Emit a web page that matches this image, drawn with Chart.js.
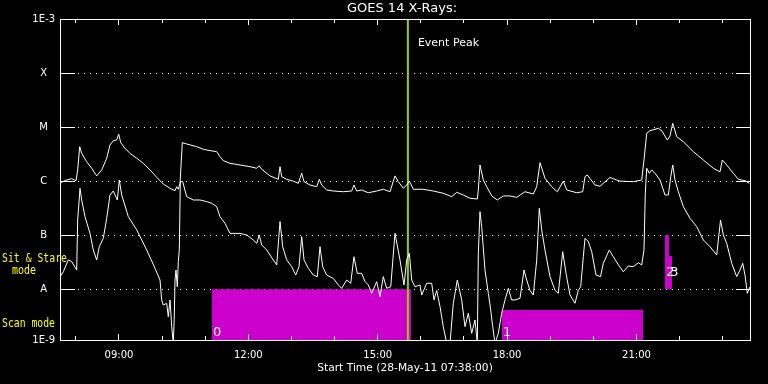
<!DOCTYPE html>
<html>
<head>
<meta charset="utf-8">
<script src="https://cdn.jsdelivr.net/npm/chart.js@4/dist/chart.umd.min.js"></script>
<style>
html,body{margin:0;padding:0;background:#000;}
#wrap{width:768px;height:384px;position:relative;}
</style>
</head>
<body>
<div id="wrap"><canvas id="c"></canvas></div>
<script>
// ---- axis ranges & tick labels ----
const startHour = 7.633;          // 07:38
const endHour = 23.633;
const yMin = 1.15e-9, yMax = 1e-3;
const yTickValues = [1.15e-9, 1e-8, 1e-7, 1e-6, 1e-5, 1e-4, 1e-3];
const yTickLabels = ['1E-9', 'A', 'B', 'C', 'M', 'X', '1E-3'];
const xMinorHours = [8,9,10,11,12,13,14,15,16,17,18,19,20,21,22,23];
const xMajorHours = [9,12,15,18,21];
const xMajorLabels = ['09:00','12:00','15:00','18:00','21:00'];
const chartTitle = 'GOES 14 X-Rays:';
const xTitle = 'Start Time (28-May-11 07:38:00)';

// ---- 1-8 A channel (upper curve) ----
const longTime = [7.649,7.788,7.904,8.004,8.043,8.090,8.136,8.252,8.368,8.484,
8.600,8.716,8.792,8.869,8.948,8.994,9.041,9.140,9.256,9.412,
9.565,9.720,9.875,10.028,10.184,10.300,10.339,10.376,10.416,10.469,
10.571,10.803,10.956,11.111,11.267,11.343,11.420,11.575,11.807,12.039,
12.194,12.248,12.310,12.503,12.695,12.735,12.774,12.890,13.043,13.159,
13.238,13.291,13.430,13.586,13.646,13.701,13.817,13.970,14.202,14.397,
14.450,14.513,14.629,14.782,14.977,15.130,15.285,15.401,15.478,15.594,
15.673,15.733,15.826,16.057,16.289,16.521,16.716,16.832,16.985,17.140,
17.310,17.333,17.372,17.449,17.528,17.644,17.773,17.913,18.068,18.223,
18.416,18.608,18.687,18.764,18.879,19.035,19.165,19.304,19.383,19.615,
19.753,19.807,19.860,20.039,20.155,20.387,20.542,20.619,20.927,21.122,
21.175,21.238,21.314,21.507,21.586,21.716,21.778,21.841,21.934,22.087,
22.319,22.551,22.783,22.938,22.991,23.093,23.246,23.362,23.518,23.617];
const longFlux = [9.4e-7,1.05e-6,1.11e-6,1.02e-6,1.61e-6,4.34e-6,3.27e-6,2.29e-6,1.73e-6,1.25e-6,
1.61e-6,2.65e-6,4.66e-6,5.6e-6,5.77e-6,7.45e-6,5.15e-6,4.05e-6,3.27e-6,2.65e-6,
2.14e-6,1.61e-6,1.18e-6,8.85e-7,7.37e-7,6.66e-7,7.9e-7,7.07e-7,9.1e-7,5.15e-6,
4.87e-6,4.34e-6,3.88e-6,3.67e-6,3.51e-6,2.83e-6,2.39e-6,2.14e-6,1.99e-6,1.85e-6,
1.73e-6,1.93e-6,1.66e-6,1.25e-6,1.08e-6,1.85e-6,1.21e-6,1.08e-6,1.0e-6,9.1e-7,
1.40e-6,9.77e-7,8.48e-7,7.9e-7,1.08e-6,8.48e-7,6.86e-7,6.57e-7,6.37e-7,6.57e-7,
8.48e-7,6.57e-7,6.86e-7,6.1e-7,6.57e-7,7.07e-7,6.37e-7,1.25e-6,9.77e-7,7.37e-7,
8.48e-7,1.0e-6,7.07e-7,7.07e-7,6.57e-7,5.96e-7,5.16e-7,6.22e-7,5.54e-7,4.82e-7,
4.67e-7,6.86e-7,1.99e-6,1.05e-6,7.9e-7,5.32e-7,4.48e-7,5.32e-7,5.32e-7,5.02e-7,
6.37e-7,5.78e-7,7.9e-7,2.2e-6,1.13e-6,7.9e-7,6.37e-7,1.0e-6,6.86e-7,6.1e-7,
6.37e-7,1.21e-6,1.30e-6,8.48e-7,8.05e-7,1.17e-6,1.05e-6,1.0e-6,9.77e-7,1.05e-6,
2.46e-6,7.68e-6,8.57e-6,9.5e-6,8.57e-6,5.77e-6,6.84e-6,1.18e-5,6.64e-6,5.37e-6,
3.51e-6,2.46e-6,1.73e-6,1.49e-6,2.46e-6,1.99e-6,1.40e-6,1.08e-6,1.02e-6,9.1e-7];

// ---- 0.5-4 A channel (lower curve) ----
const shortTime = [7.649,7.710,7.825,7.904,8.020,8.043,8.097,8.136,8.213,8.329,
8.405,8.484,8.544,8.637,8.716,8.792,8.869,8.962,9.008,9.064,
9.217,9.412,9.643,9.836,9.952,9.991,10.028,10.107,10.144,10.184,
10.223,10.260,10.283,10.300,10.323,10.353,10.376,10.400,10.423,10.478,
10.571,10.724,10.880,11.035,11.151,11.267,11.343,11.459,11.575,11.807,
11.962,12.115,12.194,12.254,12.310,12.426,12.579,12.658,12.735,12.797,
12.890,13.006,13.099,13.175,13.238,13.291,13.391,13.507,13.600,13.662,
13.725,13.817,13.970,14.086,14.165,14.281,14.374,14.450,14.527,14.629,
14.706,14.782,14.861,14.977,15.053,15.130,15.209,15.302,15.401,15.517,
15.610,15.673,15.733,15.789,15.865,15.981,16.021,16.136,16.252,16.306,
16.368,16.445,16.521,16.600,16.677,16.753,16.846,16.948,17.024,17.101,
17.180,17.256,17.310,17.333,17.372,17.411,17.488,17.565,17.620,17.667,
17.720,17.797,17.875,17.952,18.029,18.107,18.184,18.300,18.393,18.455,
18.532,18.608,18.687,18.747,18.803,18.879,18.995,19.111,19.188,19.290,
19.367,19.459,19.575,19.652,19.707,19.768,19.807,19.884,19.963,20.062,
20.166,20.231,20.370,20.463,20.583,20.695,20.811,20.927,21.043,21.122,
21.175,21.205,21.238,21.298,21.354,21.430,21.546,21.662,21.739,21.795,
21.841,21.894,21.971,22.087,22.242,22.398,22.551,22.706,22.861,22.950,
23.014,23.093,23.209,23.325,23.401,23.464,23.517,23.571,23.633];
const shortFlux = [1.76e-8,2.11e-8,3.48e-8,3.24e-8,2.27e-8,1.91e-7,7.37e-7,4.48e-7,2.2e-7,1.08e-7,
5.33e-8,3.48e-8,6.12e-8,8.76e-8,2.05e-7,5.54e-7,6.57e-7,4.48e-7,1.05e-6,5.54e-7,
2.2e-7,1.25e-7,5.33e-8,2.44e-8,1.48e-8,6.33e-9,5.1e-9,5.5e-9,3.1e-9,6.33e-9,
2.03e-9,1.0e-9,3.1e-9,1.48e-8,2.27e-8,1.11e-8,3.24e-8,5.33e-8,9.77e-7,9.77e-7,
5.16e-7,4.48e-7,4.48e-7,4.17e-7,3.89e-7,3.37e-7,2.2e-7,1.66e-7,1.08e-7,1.08e-7,
1.01e-7,8.15e-8,7.08e-8,1.01e-7,6.6e-8,5.33e-8,3.48e-8,2.81e-8,1.79e-7,6.12e-8,
3.48e-8,2.61e-8,1.83e-8,2.61e-8,9.39e-8,3.48e-8,2.44e-8,1.83e-8,1.71e-8,6.12e-8,
2.61e-8,1.83e-8,1.59e-8,1.2e-8,1.04e-8,1.48e-8,1.29e-8,4.0e-8,1.97e-8,1.97e-8,
1.38e-8,1.2e-8,8.41e-9,1.38e-8,7.3e-9,1.71e-8,1.04e-8,1.11e-8,1.08e-7,3.48e-8,
1.2e-8,3.48e-8,4.62e-8,1.48e-8,1.11e-8,1.2e-8,7.82e-9,1.29e-8,1.29e-8,6.33e-9,
9.5e-9,4.76e-9,2.03e-9,1.0e-9,1.0e-9,5.5e-9,1.48e-8,6.33e-9,2.03e-9,3.59e-9,
1.53e-9,2.7e-9,1.0e-9,4.62e-8,2.72e-7,1.44e-7,2.27e-8,8.41e-9,4.14e-9,2.03e-9,
1.0e-9,1.53e-9,3.59e-9,6.33e-9,1.04e-8,6.33e-9,6.33e-9,6.8e-9,2.27e-8,1.48e-8,
9.5e-9,7.82e-9,3.48e-8,3.15e-7,1.25e-7,5.33e-8,1.71e-8,9.6e-9,8.41e-9,4.95e-8,
1.97e-8,7.82e-9,5.5e-9,9.6e-9,1.11e-8,4.0e-8,8.76e-8,7.6e-8,4.95e-8,1.83e-8,
1.71e-8,3.02e-8,5.33e-8,4.0e-8,2.81e-8,2.11e-8,2.69e-8,2.61e-8,3.09e-8,2.81e-8,
5.33e-8,5.96e-7,1.73e-6,1.40e-6,1.61e-6,1.40e-6,1.05e-6,5.54e-7,5.54e-7,1.21e-6,
1.99e-6,1.05e-6,6.37e-7,3.37e-7,2.05e-7,1.44e-7,8.15e-8,6.12e-8,4.3e-8,1.91e-7,
1.01e-7,7.08e-8,3.02e-8,1.71e-8,2.27e-8,3.02e-8,1.83e-8,8.41e-9,1.11e-8];

// ---- event peak ----
const eventPeak = [15.70];
const eventLabel = 'Event Peak';

// ---- instrument mode intervals ----
const modeStart = [11.151, 17.875, 21.662, 21.755];
const modeEnd   = [15.772, 21.152, 21.755, 21.825];
const modeTop   = [1e-8, 4.14e-9, 1e-7, 4.12e-8];
const modeBase  = [null, null, 1e-8, 1e-8];
const modeLabels = ['0', '1', '2', '3'];

const WHITE = '#ffffff', MAGENTA = '#cc00cc', GREEN = '#9acd00', YELLOW = '#ffff00';

function alignPx(p){ return Math.round(p - 0.5) + 0.5; }

const framePlugin = {
  id: 'frame',
  afterDatasetsDraw(chart){
    const {ctx, chartArea:a, scales:{x, y}} = chart;
    ctx.save();
    ctx.strokeStyle = WHITE; ctx.lineWidth = 1;
    ctx.strokeRect(a.left + 0.5, a.top + 0.5, a.right - a.left, a.bottom - a.top);
    ctx.beginPath();
    y.ticks.forEach(t => {
      const p = alignPx(y.getPixelForValue(t.value));
      ctx.moveTo(a.left, p); ctx.lineTo(a.left + 15, p);
      ctx.moveTo(a.right - 14, p); ctx.lineTo(a.right, p);
    });
    x.ticks.forEach(t => {
      const p = alignPx(x.getPixelForValue(t.value));
      const len = xMajorHours.includes(t.value) ? 6 : 4;
      ctx.moveTo(p, a.top); ctx.lineTo(p, a.top + len);
      ctx.moveTo(p, a.bottom); ctx.lineTo(p, a.bottom - len);
    });
    ctx.stroke();

    // title
    ctx.fillStyle = WHITE;
    ctx.textBaseline = 'middle';
    ctx.textAlign = 'center';
    ctx.font = '13px "DejaVu Sans"';
    ctx.fillText(chartTitle, (a.left + a.right) / 2 - 3, 9);

    // event peak label
    ctx.textAlign = 'left';
    ctx.font = '11px "DejaVu Sans"';
    ctx.fillText(eventLabel, x.getPixelForValue(eventPeak[0]) + 10, a.top + 24);

    // mode labels on bars
    ctx.font = '13px "DejaVu Sans"';
    modeLabels.forEach((lab, i) => {
      const px = x.getPixelForValue(modeStart[i]) + 1.2;
      const py = modeBase[i] === null ? a.bottom - 7 : y.getPixelForValue(modeBase[i]) - 17;
      ctx.fillText(lab, px, py);
    });

    // yellow mode legends
    ctx.fillStyle = YELLOW;
    ctx.font = '11.5px "DejaVu Sans Mono"';
    ctx.fillText('Sit & Stare', 2, 259, 65);
    ctx.fillText('mode', 12, 271, 24);
    ctx.fillText('Scan mode', 2, 324, 53);
    ctx.restore();
  }
};

const lineDs = (label, xs, ys, color, width) => ({
  label, data: xs.map((t, i) => ({x: t, y: ys[i]})),
  borderColor: color, borderWidth: width, pointRadius: 0, fill: false, tension: 0
});

const datasets = [
  lineDs('1-8 A', longTime, longFlux, WHITE, 1),
  lineDs('0.5-4 A', shortTime, shortFlux, WHITE, 1),
  lineDs(eventLabel, [eventPeak[0], eventPeak[0]], [yMax, yMin], GREEN, 2)
];
modeStart.forEach((s, i) => {
  datasets.push({
    label: 'mode ' + modeLabels[i],
    data: [{x: s, y: modeTop[i]}, {x: modeEnd[i], y: modeTop[i]}],
    borderColor: 'rgba(0,0,0,0)', borderWidth: 1, pointRadius: 0, tension: 0,
    backgroundColor: MAGENTA,
    fill: modeBase[i] === null ? 'start' : {value: modeBase[i]}
  });
});

new Chart(document.getElementById('c'), {
  type: 'line',
  data: {datasets},
  options: {
    responsive: true, maintainAspectRatio: false, animation: false, events: [],
    layout: {padding: {left: 0, right: 18, top: 19, bottom: 0}},
    plugins: {legend: {display: false}, tooltip: {enabled: false}},
    scales: {
      x: {
        type: 'linear', min: startHour, max: endHour,
        afterFit(s){ s.height = 44; },
        afterBuildTicks(s){ s.ticks = xMinorHours.map(v => ({value: v})); },
        grid: {display: false, drawTicks: false},
        border: {display: false},
        ticks: {
          autoSkip: false, maxRotation: 0, minRotation: 0, padding: 9, color: WHITE,
          font: {family: 'DejaVu Sans', size: 10},
          callback(v){ const i = xMajorHours.indexOf(v); return i >= 0 ? xMajorLabels[i] : ''; }
        },
        title: {display: true, text: xTitle, color: WHITE,
          font: {family: 'DejaVu Sans', size: 10.7}, padding: {top: 0, bottom: 9}}
      },
      y: {
        type: 'logarithmic', min: yMin, max: yMax,
        afterFit(s){ s.width = 60; },
        afterBuildTicks(s){ s.ticks = yTickValues.map(v => ({value: v})); },
        grid: {color: WHITE, lineWidth: 1, drawTicks: false},
        border: {display: false, dash: [1, 5]},
        ticks: {
          color: WHITE, crossAlign: 'center', padding: 5,
          font: {family: 'DejaVu Sans', size: 10},
          callback(v){ return yTickLabels[Math.round(Math.log10(v)) + 9]; }
        }
      }
    }
  },
  plugins: [framePlugin]
});
</script>
</body>
</html>
